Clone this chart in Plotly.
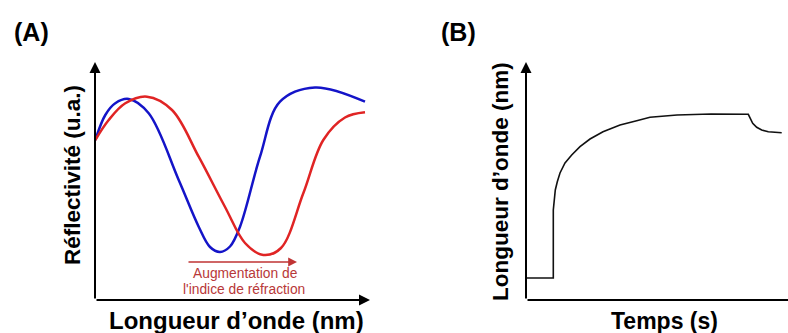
import plotly.graph_objects as go

# Panel A: reflectivity spectra (x: wavelength, arbitrary units; y: reflectivity, a.u.)
blue_x = [0.3, 10.3, 20.3, 33.7, 53.7, 83.7, 103.7, 115, 125, 135, 145, 165, 185, 220, 270]
blue_y = [160, 185, 196.7, 201, 186.7, 120, 73.3, 53, 48, 53.5, 73.3, 143.3, 198.3, 212.5, 198.3]
red_x = [0.3, 13.7, 30.3, 52, 77, 103.7, 130.3, 150, 168.3, 186, 208.3, 228.3, 250, 270]
red_y = [160, 180, 196.7, 203.3, 190, 143.3, 92.5, 57, 45, 52, 106.7, 160, 182.5, 187.7]

# Panel B: sensorgram (x: time, y: wavelength)
sens_x = [0, 27.3, 27.3, 28, 29.3, 31.3, 34, 39, 45.7, 54, 64, 77, 94, 110.7, 124, 151, 185,
          222.3, 224, 226.7, 230.7, 235.7, 242.3, 249, 255.7]
sens_y = [22, 22, 90, 100, 110, 118.3, 127, 137, 145, 153.3, 161, 168.3, 175, 179.3, 182.7, 185, 186,
          185.7, 181.7, 176.7, 172.7, 170, 168.3, 167.7, 167.3]

FONT = "Liberation Sans, Arial, sans-serif"
W, H = 788, 333

fig = go.Figure()
fig.add_trace(go.Scatter(x=blue_x, y=blue_y, mode="lines",
                         line=dict(color="#1414c8", width=2.5, shape="spline", smoothing=1.0),
                         xaxis="x", yaxis="y", showlegend=False))
fig.add_trace(go.Scatter(x=red_x, y=red_y, mode="lines",
                         line=dict(color="#e02424", width=2.5, shape="spline", smoothing=1.0),
                         xaxis="x", yaxis="y", showlegend=False))
fig.add_trace(go.Scatter(x=sens_x, y=sens_y, mode="lines",
                         line=dict(color="#111111", width=1.6),
                         xaxis="x2", yaxis="y2", showlegend=False))

ydom = [(H - 300) / H, (H - 62) / H]
ax_common = dict(showgrid=False, zeroline=False, showticklabels=False, ticks="", showline=False, fixedrange=True)
fig.update_layout(
    width=W, height=H, margin=dict(l=0, r=0, t=0, b=0),
    paper_bgcolor="white", plot_bgcolor="white",
    xaxis=dict(domain=[95 / W, 370 / W], range=[0, 275], **ax_common),
    yaxis=dict(domain=ydom, range=[0, 238], **ax_common),
    xaxis2=dict(domain=[526 / W, 1.0], range=[0, 262], anchor="y2", **ax_common),
    yaxis2=dict(domain=ydom, range=[0, 238], anchor="x2", **ax_common),
)

ann = []

def arrow(xref, yref, x0, y0, x1, y1, color="black", width=2, head=True):
    ann.append(dict(x=x1, y=y1, ax=x0, ay=y0, xref=xref, yref=yref, axref=xref, ayref=yref,
                    showarrow=True, arrowhead=2 if head else 0, arrowsize=1.1, arrowwidth=width,
                    arrowcolor=color, text=""))

arrow("x", "y", 0, 0, 0, 238)
arrow("x", "y", 0, 0, 275, 0)
arrow("x2", "y2", 0, 0, 0, 238)
arrow("x2", "y2", 0, 0, 262, 0, head=False)
arrow("x", "y", 92, 38, 202, 38, color="#c03434", width=1.6)

def text(t, x, y, size, bold=True, color="black", angle=0):
    ann.append(dict(text=f"<b>{t}</b>" if bold else t, x=x / W, y=1 - y / H, xref="paper", yref="paper",
                    showarrow=False, textangle=angle, xanchor="center", yanchor="middle",
                    font=dict(family=FONT, size=size, color=color)))

text("(A)", 31, 32, 25)
text("(B)", 458, 32, 25)
text("Réflectivité (u.a.)", 72, 175, 22.5, angle=-90)
text("Longueur d’onde (nm)", 236, 320, 24)
text("Longueur d’onde (nm)", 500, 182, 22.5, angle=-90)
text("Temps (s)", 664, 321, 23)
text("Augmentation de", 245, 273, 13.8, bold=False, color="#b83838")
text("l'indice de réfraction", 244, 289, 13.8, bold=False, color="#b83838")

fig.update_layout(annotations=ann)
fig.write_html("out.html")
